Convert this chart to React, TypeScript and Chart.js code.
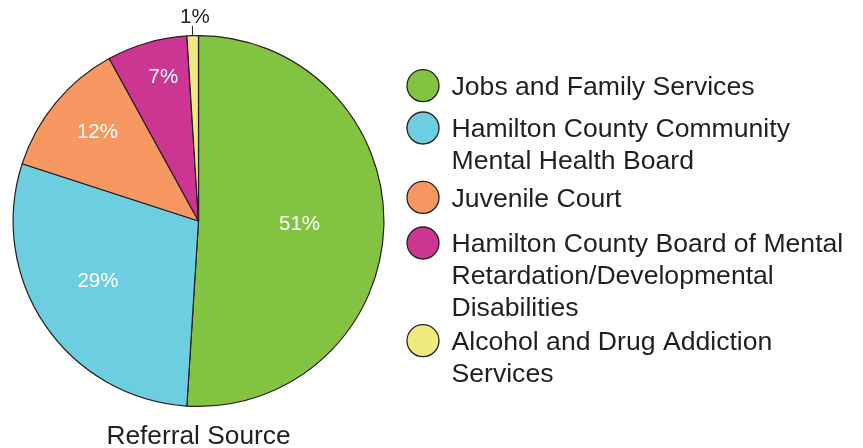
import React, { useEffect, useRef } from "react";
import { Chart, registerables } from "chart.js";

Chart.register(...registerables);

const categories = [
  "Jobs and Family Services",
  "Hamilton County Community Mental Health Board",
  "Juvenile Court",
  "Hamilton County Board of Mental Retardation/Developmental Disabilities",
  "Alcohol and Drug Addiction Services",
];
const shares = [51, 29, 12, 7, 1];
const chartTitle = "Referral Source";

const colors = ["#82c341", "#6dcde1", "#f79862", "#cc3591", "#eeea7e"];
const FONT = '"Liberation Sans", Arial, Helvetica, sans-serif';
const INK = "#231f20";

// label placement inside slices: t = fraction along the slice angle, r = fraction of radius
const labelPlacement = [
  { t: 0.5, r: 0.545, outside: false },
  { t: 0.53, r: 0.633, outside: false },
  { t: 0.54, r: 0.726, outside: false },
  { t: 0.6, r: 0.8, outside: false },
  { t: 0.5, r: 1, outside: true },
];

// legend layout
const legendLayout = {
  circleX: 423,
  circleR: 16,
  textX: 451.5,
  maxWidth: 408,
  lineHeight: 31.7,
  firstBaselines: [95, 137.3, 206.7, 252.3, 350],
  fontSize: 26.6,
};

function wrap(ctx: CanvasRenderingContext2D, text: string, maxW: number): string[] {
  const words = text.split(" ");
  const lines: string[] = [];
  let cur = "";
  for (const w of words) {
    const test = cur ? cur + " " + w : w;
    if (ctx.measureText(test).width > maxW && cur) {
      lines.push(cur);
      cur = w;
    } else {
      cur = test;
    }
  }
  if (cur) lines.push(cur);
  return lines;
}

const decorPlugin = {
  id: "decor",
  afterDraw(chart: any) {
    const ctx: CanvasRenderingContext2D = chart.ctx;
    const meta = chart.getDatasetMeta(0);
    ctx.save();
    // slice labels
    meta.data.forEach((arc: any, i: number) => {
      const p = labelPlacement[i];
      const { x, y, startAngle, endAngle, outerRadius } = arc.getProps(
        ["x", "y", "startAngle", "endAngle", "outerRadius"],
        true
      );
      const a = startAngle + p.t * (endAngle - startAngle);
      const text = shares[i] + "%";
      ctx.font = `20.5px ${FONT}`;
      ctx.textAlign = "center";
      if (!p.outside) {
        const r = p.r * outerRadius;
        ctx.fillStyle = "#ffffff";
        ctx.textBaseline = "middle";
        ctx.fillText(text, x + Math.cos(a) * r, y + Math.sin(a) * r);
      } else {
        const x0 = x + Math.cos(a) * outerRadius;
        const y0 = y + Math.sin(a) * outerRadius;
        const x1 = x + Math.cos(a) * (outerRadius + 10);
        const y1 = y + Math.sin(a) * (outerRadius + 10);
        ctx.strokeStyle = INK;
        ctx.lineWidth = 1;
        ctx.beginPath();
        ctx.moveTo(x0, y0);
        ctx.lineTo(x1, y1);
        ctx.stroke();
        ctx.fillStyle = INK;
        ctx.textBaseline = "alphabetic";
        ctx.fillText(text, x1 + 2.5, y1 - 2.5);
      }
    });

    // title below the pie
    const arc0 = meta.data[0];
    ctx.font = `26.3px ${FONT}`;
    ctx.fillStyle = INK;
    ctx.textAlign = "center";
    ctx.textBaseline = "alphabetic";
    ctx.fillText(chartTitle, arc0.x, 444);

    // legend
    const L = legendLayout;
    ctx.font = `${L.fontSize}px ${FONT}`;
    ctx.textAlign = "left";
    categories.forEach((cat, i) => {
      const base = L.firstBaselines[i];
      ctx.beginPath();
      ctx.arc(L.circleX, base - 9.3, L.circleR, 0, Math.PI * 2);
      ctx.fillStyle = colors[i];
      ctx.fill();
      ctx.strokeStyle = INK;
      ctx.lineWidth = 1.3;
      ctx.stroke();
      ctx.fillStyle = INK;
      const lines = wrap(ctx, cat, L.maxWidth);
      lines.forEach((ln, j) => {
        ctx.fillText(ln, L.textX, base + j * L.lineHeight);
      });
    });
    ctx.restore();
  },
};

export default function App() {
  const ref = useRef<HTMLCanvasElement | null>(null);
  useEffect(() => {
    document.body.style.margin = "0";
    const canvas = ref.current;
    if (!canvas) return;
    const chart = new Chart(canvas, {
      type: "pie",
      data: {
        labels: categories,
        datasets: [
          {
            data: shares,
            backgroundColor: colors,
            borderColor: INK,
            borderWidth: 1.2,
          },
        ],
      },
      options: {
        animation: false,
        responsive: false,
        events: [],
        layout: { padding: { left: 12, top: 35, right: 478, bottom: 41 } },
        plugins: {
          legend: { display: false },
          tooltip: { enabled: false },
          title: { display: false },
        },
      },
      plugins: [decorPlugin],
    });
    return () => chart.destroy();
  }, []);
  return (
    <div style={{ width: 863, height: 448, background: "#ffffff" }}>
      <canvas ref={ref} width={863} height={448} style={{ display: "block" }} />
    </div>
  );
}
